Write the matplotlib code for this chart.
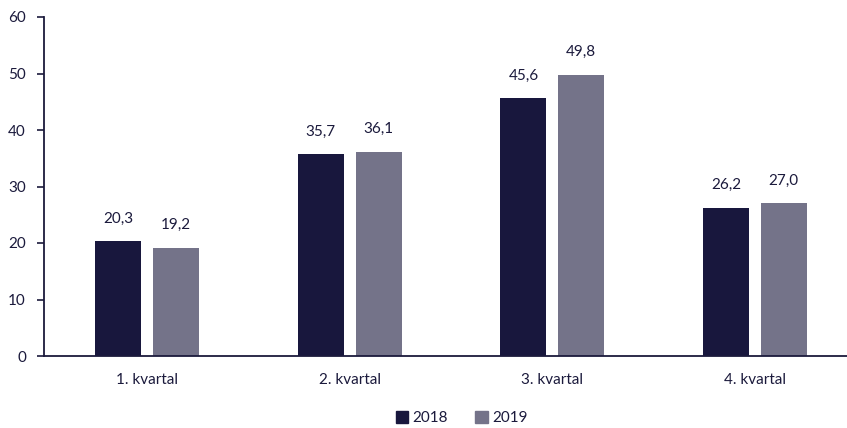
import numpy as np
import matplotlib.pyplot as plt
from matplotlib.patches import Patch

categories = ['1. kvartal', '2. kvartal', '3. kvartal', '4. kvartal']
series_2018 = [20.3, 35.7, 45.6, 26.2]
series_2019 = [19.2, 36.1, 49.8, 27.0]
labels = ['2018', '2019']

navy = '#18173d'
grey = '#747389'
text_col = '#1b1a3c'

plt.rcParams['font.family'] = ['Lato', 'DejaVu Sans']

fig = plt.figure(figsize=(8.47, 4.28), dpi=100)
ax = fig.add_axes([44 / 847, 1 - 356 / 428, 1 - 44 / 847, (356 - 17) / 428])

x = np.arange(len(categories))
w = 0.227
off = 0.143
b1 = ax.bar(x - off, series_2018, w, color=navy)
b2 = ax.bar(x + off, series_2019, w, color=grey)

for bars, vals in ((b1, series_2018), (b2, series_2019)):
    for b, v in zip(bars, vals):
        ax.text(b.get_x() + b.get_width() / 2, v + 2.8, f'{v:.1f}'.replace('.', ','),
                ha='center', va='bottom', fontsize=11, color=text_col)

ax.set_xlim(-0.51, 3.455)
ax.set_ylim(0, 60)
ax.set_yticks(range(0, 61, 10))
ax.set_xticks(x)
ax.set_xticklabels(categories)
ax.tick_params(axis='x', length=0, pad=12, labelsize=11, colors=text_col)
ax.tick_params(axis='y', length=5, width=1.2, color=text_col, labelsize=11, labelcolor=text_col, pad=8)
for s in ('top', 'right'):
    ax.spines[s].set_visible(False)
for s in ('left', 'bottom'):
    ax.spines[s].set_color(text_col)
    ax.spines[s].set_linewidth(1.3)

handles = [Patch(color=navy, label=labels[0]), Patch(color=grey, label=labels[1])]
fig.legend(handles=handles, loc='center', bbox_to_anchor=(0.545, 1 - 418 / 428), ncol=2,
           frameon=False, fontsize=11, handlelength=0.8, handleheight=0.8,
           handletextpad=0.3, columnspacing=1.8, labelcolor=text_col)

fig.savefig('out.png', dpi=100)
